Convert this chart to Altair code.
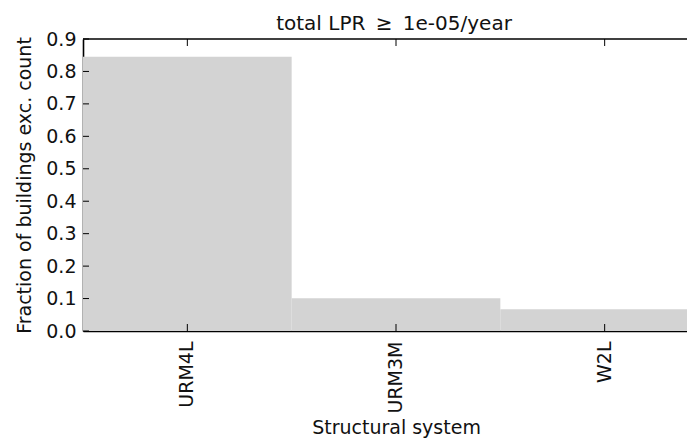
import altair as alt
import pandas as pd

categories = ["URM4L", "URM3M", "W2L"]
fractions = [0.845, 0.101, 0.067]
y_tick_values = [0.0, 0.1, 0.2, 0.3, 0.4, 0.5, 0.6, 0.7, 0.8, 0.9]
y_top = [0.9]
title_text = "total LPR \u2009\u2265\u2009 1e-05/year"

df = pd.DataFrame({"system": categories, "fraction": fractions})
yt = pd.DataFrame({"fraction": y_tick_values})
ytop = pd.DataFrame({"fraction": y_top})

FONT = "DejaVu Sans"
TXT = "#111111"
x_scale = alt.Scale(range=[0, 626], paddingInner=0, paddingOuter=0)
y_scale = alt.Scale(domain=[0, 0.9], nice=False, zero=True)

x_axis = alt.Axis(title="Structural system", labelAngle=-90, ticks=False,
                  tickSize=0, labelPadding=10, titlePadding=6, domain=True,
                  domainColor="black", domainWidth=1.6,
                  labelFontSize=19, titleFontSize=19, labelColor=TXT,
                  titleColor=TXT, labelFont=FONT, titleFont=FONT,
                  titleFontWeight="normal", grid=False)
y_axis = alt.Axis(title="Fraction of buildings exc. count", values=y_tick_values,
                  format=".1f", ticks=False, tickSize=0, labelPadding=7,
                  titlePadding=11, domain=True, domainColor="black", domainWidth=1.6,
                  grid=False, labelFontSize=19, titleFontSize=19, labelColor=TXT,
                  titleColor=TXT, labelFont=FONT, titleFont=FONT,
                  titleFontWeight="normal")

X = alt.X("system:N", sort=categories, scale=x_scale, axis=x_axis)
Y = alt.Y("fraction:Q", scale=y_scale, axis=y_axis)

bars = alt.Chart(df).mark_bar(color="#d3d3d3", strokeWidth=0).encode(x=X, y=Y)

ytick_rules = alt.Chart(yt).mark_rule(color="black", strokeWidth=1).encode(
    y=Y, x=alt.value(0), x2=alt.value(6),
)

xtick_bottom = alt.Chart(df).mark_rule(color="black", strokeWidth=1).encode(
    x=X, y=alt.value(292), y2=alt.value(285),
)

xtick_top = alt.Chart(df).mark_rule(color="black", strokeWidth=1).encode(
    x=X, y=alt.value(0), y2=alt.value(7),
)

top_border = alt.Chart(ytop).mark_rule(color="black", strokeWidth=1.6).encode(y=Y)

chart = alt.layer(bars, ytick_rules, xtick_bottom, xtick_top, top_border).properties(
    width=604,
    height=292,
    title=alt.TitleParams(title_text, fontSize=20, font=FONT, fontWeight="normal",
                          color=TXT, offset=-4, dx=9),
    autosize=alt.AutoSizeParams(type="none"),
    padding={"left": 75, "top": 31, "right": 0, "bottom": 107},
).configure(background="white").configure_view(stroke=None)

chart.save("out.html", embed_options={"renderer": "svg", "actions": False})
